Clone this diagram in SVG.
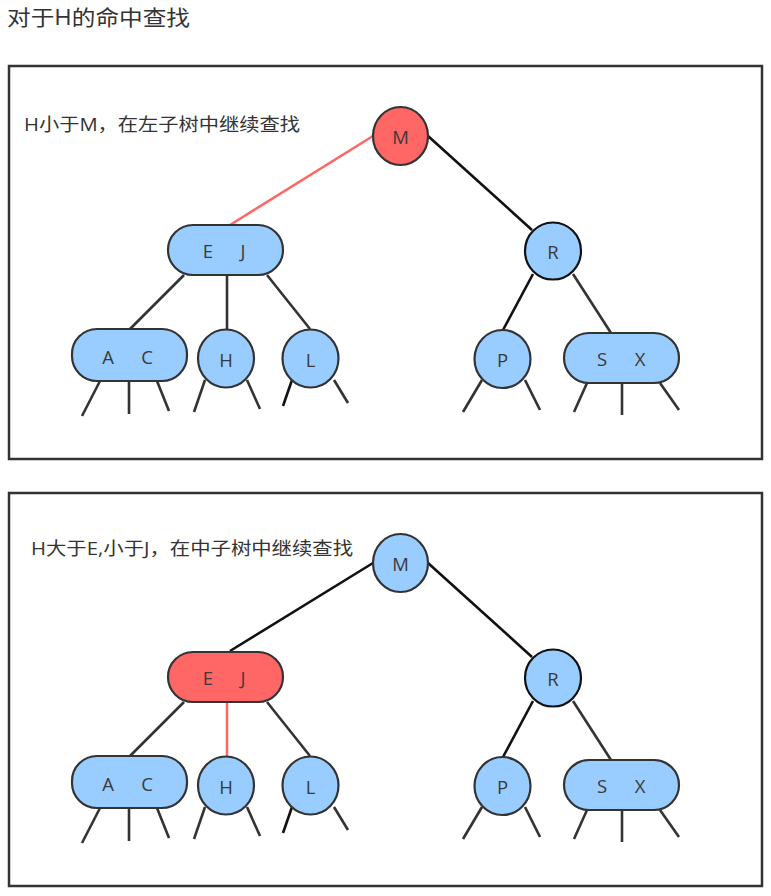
<svg xmlns="http://www.w3.org/2000/svg" width="771" height="896" viewBox="0 0 771 896">
<style>
.bg{fill:#ffffff}
.frame{fill:none;stroke:#333333;stroke-width:2.5}
.title{font-family:"Open Sans","Noto Sans CJK SC",sans-serif;font-size:21px;fill:#333333}
.lbl{font-family:"Open Sans","Noto Sans CJK SC",sans-serif;font-size:18px;fill:#333333}
.blue{fill:#99CCFF;stroke:#333333;stroke-width:2.2}
.red{fill:#FF6666;stroke:#333333;stroke-width:2.2}
.k{font-family:"Open Sans","Noto Sans",sans-serif;font-size:18.5px;fill:#3a3a3a;text-anchor:middle;dominant-baseline:central}
.ln{stroke:#333333;stroke-width:2.6;fill:none}
.lnk{stroke:#111111;stroke-width:2.6;fill:none}
.hot{stroke:#FF6666;stroke-width:2.5;fill:none}
</style>
<rect class="bg" x="0" y="0" width="771" height="896"/>
<text class="title" x="7" y="25" textLength="183" lengthAdjust="spacingAndGlyphs">对于H的命中查找</text>

<g id="panel1">
<rect class="frame" x="9" y="66" width="753" height="393"/>
<text class="lbl" x="24" y="131" textLength="276" lengthAdjust="spacingAndGlyphs">H小于M，在左子树中继续查找</text>
<g id="connectors1">
<line class="hot" x1="373" y1="136" x2="230" y2="225"/>
<line class="lnk" x1="428" y1="136" x2="532" y2="230"/>
<line class="ln" x1="184" y1="275" x2="130" y2="329"/>
<line class="ln" x1="227" y1="275" x2="227" y2="329"/>
<line class="ln" x1="267" y1="275" x2="310" y2="329"/>
<line class="lnk" x1="533" y1="274" x2="503" y2="330"/>
<line class="ln" x1="573" y1="274" x2="611" y2="333"/>
<line class="ln" x1="100" y1="381" x2="82" y2="416"/>
<line class="ln" x1="129" y1="381" x2="129" y2="414"/>
<line class="ln" x1="157" y1="381" x2="169" y2="411"/>
<line class="ln" x1="205" y1="380" x2="194" y2="412"/>
<line class="ln" x1="247" y1="380" x2="260" y2="409"/>
<line class="lnk" x1="292" y1="380" x2="283" y2="406"/>
<line class="ln" x1="334" y1="380" x2="348" y2="403"/>
<line class="ln" x1="482" y1="380" x2="463" y2="412"/>
<line class="ln" x1="525" y1="380" x2="540" y2="410"/>
<line class="ln" x1="587" y1="383" x2="574" y2="412"/>
<line class="ln" x1="622" y1="383" x2="622" y2="415"/>
<line class="ln" x1="660" y1="383" x2="679" y2="410"/>
</g>
<g id="p1-M"><ellipse class="red" cx="400.5" cy="136" rx="27.5" ry="29"/><text class="k" x="400.5" y="136">M</text></g>
<g id="p1-EJ"><rect class="blue" x="168" y="225" width="115" height="50" rx="25"/><text class="k" x="208" y="250">E</text><text class="k" x="243" y="250">J</text></g>
<g id="p1-R"><ellipse class="blue" cx="553" cy="251" rx="28" ry="28.5" style="stroke:#111"/><text class="k" x="553" y="251">R</text></g>
<g id="p1-AC"><rect class="blue" x="72" y="329" width="115" height="52" rx="25"/><text class="k" x="108" y="356">A</text><text class="k" x="147" y="356">C</text></g>
<g id="p1-H"><ellipse class="blue" cx="226" cy="358.5" rx="28" ry="29"/><text class="k" x="226" y="359">H</text></g>
<g id="p1-L"><ellipse class="blue" cx="310.5" cy="358.5" rx="28" ry="29"/><text class="k" x="310.5" y="359">L</text></g>
<g id="p1-P"><ellipse class="blue" cx="502.5" cy="359" rx="28" ry="29"/><text class="k" x="502.5" y="359">P</text></g>
<g id="p1-SX"><rect class="blue" x="564" y="333" width="115" height="50" rx="25"/><text class="k" x="602" y="358">S</text><text class="k" x="640" y="358">X</text></g>
</g>

<g id="panel2">
<rect class="frame" x="9" y="493" width="753" height="393"/>
<text class="lbl" x="31" y="555" textLength="322" lengthAdjust="spacingAndGlyphs">H大于E,小于J，在中子树中继续查找</text>
<g id="connectors2" transform="translate(0,427)">
<line class="lnk" x1="373" y1="136" x2="230" y2="224"/>
<line class="lnk" x1="428" y1="136" x2="532" y2="230"/>
<line class="ln" x1="184" y1="275" x2="130" y2="329"/>
<line class="hot" x1="227" y1="275" x2="227" y2="329"/>
<line class="ln" x1="267" y1="275" x2="310" y2="329"/>
<line class="lnk" x1="533" y1="274" x2="503" y2="330"/>
<line class="ln" x1="573" y1="274" x2="611" y2="333"/>
<line class="ln" x1="100" y1="381" x2="82" y2="416"/>
<line class="ln" x1="129" y1="381" x2="129" y2="414"/>
<line class="ln" x1="157" y1="381" x2="169" y2="411"/>
<line class="ln" x1="205" y1="380" x2="194" y2="412"/>
<line class="ln" x1="247" y1="380" x2="260" y2="409"/>
<line class="lnk" x1="292" y1="380" x2="283" y2="406"/>
<line class="ln" x1="334" y1="380" x2="348" y2="403"/>
<line class="ln" x1="482" y1="380" x2="463" y2="412"/>
<line class="ln" x1="525" y1="380" x2="540" y2="410"/>
<line class="ln" x1="587" y1="383" x2="574" y2="412"/>
<line class="ln" x1="622" y1="383" x2="622" y2="415"/>
<line class="ln" x1="660" y1="383" x2="679" y2="410"/>
</g>
<g id="p2-M"><ellipse class="blue" cx="400.5" cy="563" rx="27.5" ry="29"/><text class="k" x="400.5" y="563">M</text></g>
<g id="p2-EJ"><rect class="red" x="168" y="652" width="115" height="50" rx="25"/><text class="k" x="208" y="677">E</text><text class="k" x="243" y="677">J</text></g>
<g id="p2-R"><ellipse class="blue" cx="553" cy="678" rx="28" ry="28.5" style="stroke:#111"/><text class="k" x="553" y="678">R</text></g>
<g id="p2-AC"><rect class="blue" x="72" y="756" width="115" height="52" rx="25"/><text class="k" x="108" y="783">A</text><text class="k" x="147" y="783">C</text></g>
<g id="p2-H"><ellipse class="blue" cx="226" cy="785.5" rx="28" ry="29"/><text class="k" x="226" y="786">H</text></g>
<g id="p2-L"><ellipse class="blue" cx="310.5" cy="785.5" rx="28" ry="29"/><text class="k" x="310.5" y="786">L</text></g>
<g id="p2-P"><ellipse class="blue" cx="502.5" cy="786" rx="28" ry="29"/><text class="k" x="502.5" y="786">P</text></g>
<g id="p2-SX"><rect class="blue" x="564" y="760" width="115" height="50" rx="25"/><text class="k" x="602" y="785">S</text><text class="k" x="640" y="785">X</text></g>
</g>
</svg>
